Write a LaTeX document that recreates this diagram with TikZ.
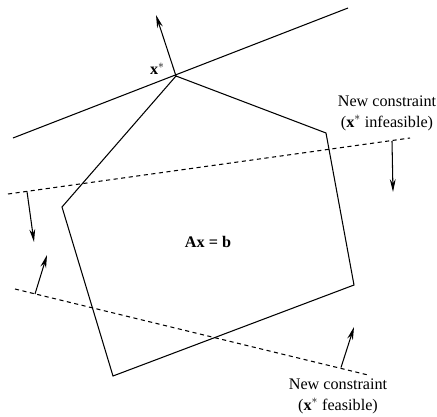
\documentclass[tikz,border=0pt]{standalone}
\usepackage{fontspec}
\setmainfont{Liberation Serif}
\usetikzlibrary{arrows.meta}
\begin{document}
\begin{tikzpicture}[>={Stealth[length=11pt,width=5pt]},x=0.03cm,y=-0.03cm,line width=0.9pt]
 \tikzset{lbl/.style={font=\fontsize{13.8}{17.8}\selectfont,align=center},
  cut/.style={dash pattern=on 3.5pt off 3pt}}
 \useasboundingbox (0,0) rectangle (437,417);
 % feasible polygon
 \coordinate (xs) at (176,76);
 \coordinate (pr) at (326,133);
 \coordinate (plr) at (354,285);
 \coordinate (pb) at (113,376);
 \coordinate (pl) at (62,207);
 \draw (xs)--(pr)--(plr)--(pb)--(pl)--cycle;
 % objective line through x*
 \coordinate (ta) at (13,138);
 \coordinate (tb) at (348,8);
 \coordinate (xsup) at (156,15);
 \draw (ta)--(tb);
 \draw[->] (xs)--(xsup);
 \node[lbl,left] (xlab) at (169,69) {\textbf{x}$^{*}$};
 \node[lbl] (axb) at (208,242) {\textbf{Ax = b}};
 % cut that removes x*
 \coordinate (ia) at (8,194);
 \coordinate (ib) at (410,138);
 \coordinate (ial) at (27,191.5);
 \coordinate (iat) at (34,242);
 \coordinate (iar) at (392,141);
 \coordinate (iart) at (393,192);
 \draw[cut] (ia)--(ib);
 \draw[->] (ial)--(iat);
 \draw[->] (iar)--(iart);
 \node[lbl] (ninf) at (387,113) {New constraint\\(\textbf{x}$^{*}$ infeasible)};
 % cut that keeps x*
 \coordinate (fa) at (15,289);
 \coordinate (fb) at (368,375);
 \coordinate (fal) at (35,294);
 \coordinate (falt) at (47,255);
 \coordinate (far) at (341,367.5);
 \coordinate (fart) at (354,327);
 \draw[cut] (fa)--(fb);
 \draw[->] (fal)--(falt);
 \draw[->] (far)--(fart);
 \node[lbl] (nfeas) at (338,396) {New constraint\\(\textbf{x}$^{*}$ feasible)};
\end{tikzpicture}
\end{document}
